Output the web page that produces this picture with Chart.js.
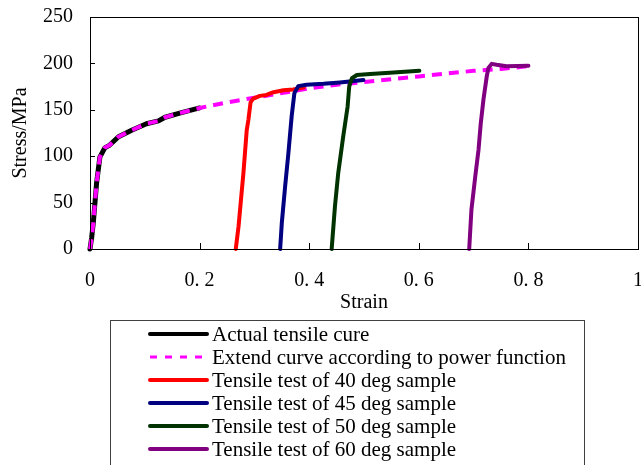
<!DOCTYPE html>
<html lang="en">
<head>
<meta charset="UTF-8">
<title>Stress - Strain</title>
<script src="https://cdn.jsdelivr.net/npm/chart.js"></script>
<style>
    html, body { margin: 0; padding: 0; background: #fff; }
    #wrap { width: 641px; height: 465px; position: relative; }
</style>
</head>
<body>

<div id="wrap"><canvas id="grafico"></canvas></div>

<script>
    // values (strain, stress in MPa)
    const actualStrain = [0, 0.003, 0.006, 0.012, 0.018, 0.027, 0.036, 0.052, 0.076, 0.103, 0.125, 0.137, 0.167, 0.2];
    const actualStress = [0, 12, 28, 71, 99, 109, 112, 121, 128, 135, 138, 142, 147, 152];

    const extendStrain = [0, 0.003, 0.006, 0.012, 0.018, 0.027, 0.036, 0.052, 0.076, 0.103, 0.125, 0.137, 0.167, 0.2, 0.25, 0.3, 0.35, 0.4, 0.45, 0.5, 0.55, 0.6, 0.65, 0.7, 0.75, 0.8];
    const extendStress = [0, 12, 28, 71, 99, 109, 112, 121, 128, 135, 138, 142, 147, 152, 158, 163, 168, 173, 177, 180, 183, 186, 189, 192, 194, 197];

    const deg40Strain = [0.266, 0.271, 0.280, 0.286, 0.289, 0.293, 0.298, 0.310, 0.322, 0.335, 0.353, 0.371, 0.390];
    const deg40Stress = [0, 24, 82, 128, 139, 158, 162, 165, 166, 169, 171, 172, 174];

    const deg45Strain = [0.347, 0.350, 0.356, 0.362, 0.368, 0.373, 0.380, 0.395, 0.426, 0.456, 0.499];
    const deg45Stress = [0, 28, 67, 103, 143, 168, 175.5, 177, 178, 179.5, 182];

    const deg50Strain = [0.441, 0.447, 0.453, 0.462, 0.470, 0.473, 0.478, 0.487, 0.511, 0.547, 0.601];
    const deg50Stress = [0, 46, 82, 121, 153, 175, 184, 187.5, 188.5, 190, 192];

    const deg60Strain = [0.692, 0.696, 0.703, 0.709, 0.713, 0.718, 0.724, 0.727, 0.733, 0.742, 0.760, 0.800];
    const deg60Stress = [0, 42, 78, 107, 135, 161, 186, 195, 199.5, 198.5, 197, 197.5];

    const seriesLabels = [
        'Actual tensile cure',
        'Extend curve according to power function',
        'Tensile test of 40 deg sample',
        'Tensile test of 45 deg sample',
        'Tensile test of 50 deg sample',
        'Tensile test of 60 deg sample'
    ];
    const seriesColors = ['#000000', '#ff00ff', '#ff0000', '#000080', '#003300', '#800080'];

    const yTicks = [0, 50, 100, 150, 200, 250];
    const xTicks = [0, 0.2, 0.4, 0.6, 0.8, 1];

    function pares(xs, ys) {
        return xs.map((x, i) => ({ x: x, y: ys[i] }));
    }

    const series = [
        pares(actualStrain, actualStress),
        pares(extendStrain, extendStress),
        pares(deg40Strain, deg40Stress),
        pares(deg45Strain, deg45Stress),
        pares(deg50Strain, deg50Stress),
        pares(deg60Strain, deg60Stress)
    ];

    const datasets = series.map((dados, i) => ({
        label: seriesLabels[i],
        data: dados,
        borderColor: seriesColors[i],
        backgroundColor: seriesColors[i],
        borderWidth: i === 0 ? 5 : 4,
        borderDash: i === 1 ? [10, 7] : [],
        borderCapStyle: i === 1 ? 'butt' : 'round',
        borderJoinStyle: 'round',
        pointRadius: 0,
        tension: 0,
        clip: false,
        order: i === 0 ? 10 : (i === 1 ? 9 : 6 - i)
    }));

    // frame, inward tick marks and the boxed legend
    const molduraPlugin = {
        id: 'moldura',
        afterDatasetsDraw(chart) {
            const ctx = chart.ctx;
            const a = chart.chartArea;
            const sx = chart.scales.x;
            const sy = chart.scales.y;
            ctx.save();
            ctx.strokeStyle = '#000';
            ctx.lineWidth = 1;
            ctx.strokeRect(Math.round(a.left) + 0.5, Math.round(a.top) + 0.5,
                Math.round(a.right - a.left), Math.round(a.bottom - a.top));
            ctx.beginPath();
            xTicks.slice(1, -1).forEach(v => {
                const px = Math.round(sx.getPixelForValue(v)) + 0.5;
                ctx.moveTo(px, a.bottom);
                ctx.lineTo(px, a.bottom - 6);
            });
            yTicks.slice(1, -1).forEach(v => {
                const py = Math.round(sy.getPixelForValue(v)) + 0.5;
                ctx.moveTo(a.left, py);
                ctx.lineTo(a.left + 5, py);
            });
            ctx.stroke();
            ctx.restore();
        },
        afterDraw(chart) {
            const ctx = chart.ctx;
            ctx.save();
            ctx.strokeStyle = '#404040';
            ctx.lineWidth = 1;
            ctx.strokeRect(110.5, 320.5, 474, 160);
            ctx.font = '21px "Liberation Serif", "Times New Roman", serif';
            ctx.textBaseline = 'middle';
            ctx.fillStyle = '#000';
            seriesLabels.forEach((txt, i) => {
                const y = 334 + i * 23;
                ctx.beginPath();
                ctx.strokeStyle = seriesColors[i];
                if (i === 1) {
                    ctx.lineWidth = 3;
                    ctx.lineCap = 'butt';
                    ctx.setLineDash([7, 8]);
                } else {
                    ctx.lineWidth = 4;
                    ctx.lineCap = 'round';
                    ctx.setLineDash([]);
                }
                ctx.moveTo(150, y);
                ctx.lineTo(207, y);
                ctx.stroke();
                ctx.fillText(txt, 212, y + 1);
            });
            ctx.restore();
        }
    };

    const fonteTick = { family: '"Liberation Serif", "Times New Roman", serif', size: 20 };
    const fonteTitulo = { family: '"Liberation Serif", "Times New Roman", serif', size: 20 };

    new Chart(document.getElementById('grafico'), {
        type: 'line',
        data: { datasets: datasets },
        options: {
            responsive: true,
            maintainAspectRatio: false,
            animation: false,
            layout: { padding: { left: 0, top: 17, right: 3, bottom: 146 } },
            plugins: {
                legend: { display: false },
                tooltip: { enabled: false }
            },
            scales: {
                x: {
                    type: 'linear',
                    min: 0,
                    max: 1,
                    afterBuildTicks(scale) {
                        scale.ticks = xTicks.map(v => ({ value: v }));
                    },
                    afterFit(scale) {
                        scale.height = 70;
                        scale.paddingLeft = 0;
                        scale.paddingRight = 0;
                    },
                    grid: { display: false, drawTicks: false },
                    border: { display: false },
                    ticks: {
                        color: '#000',
                        font: fonteTick,
                        padding: 20,
                        maxRotation: 0,
                        callback: v => (v === 0 || v === 1) ? String(v) : v.toFixed(1).replace('.', '. ')
                    },
                    title: {
                        display: true,
                        text: 'Strain',
                        color: '#000',
                        font: fonteTitulo,
                        padding: { top: 0, bottom: 4 }
                    }
                },
                y: {
                    min: 0,
                    max: 250,
                    afterBuildTicks(scale) {
                        scale.ticks = yTicks.map(v => ({ value: v }));
                    },
                    afterFit(scale) {
                        scale.width = 90;
                        scale.paddingTop = 0;
                        scale.paddingBottom = 0;
                    },
                    grid: { display: false, drawTicks: false },
                    border: { display: false },
                    ticks: {
                        color: '#000',
                        font: fonteTick,
                        padding: 17
                    },
                    title: {
                        display: true,
                        text: 'Stress/MPa',
                        color: '#000',
                        font: fonteTitulo,
                        padding: { top: 9, bottom: 0 }
                    }
                }
            }
        },
        plugins: [molduraPlugin]
    });
</script>
</body>
</html>
